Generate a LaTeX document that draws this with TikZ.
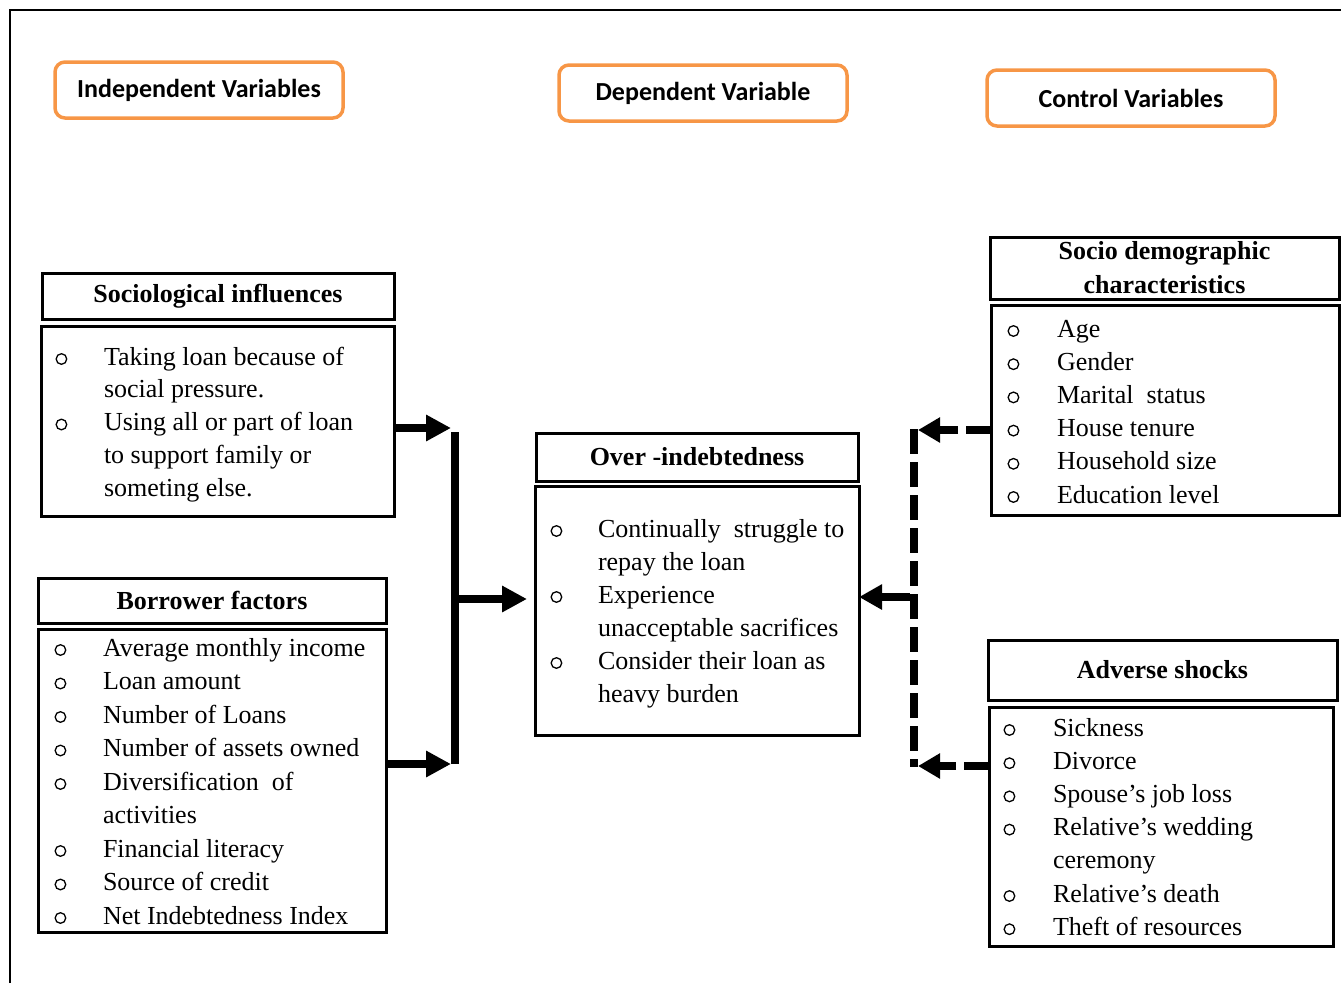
\documentclass[tikz,border=0pt]{standalone}
\usepackage{fontspec}
\setmainfont{Liberation Serif}
\newfontfamily\hfont{Carlito}
\usetikzlibrary{arrows.meta}
\definecolor{orng}{HTML}{F79646}
\tikzset{
  varbox/.style={draw=orng, line width=3.5pt, rounded corners=10pt, inner sep=0pt, outer sep=0pt,
    font=\hfont\bfseries\fontsize{26}{30}\selectfont},
  hdrbox/.style={draw, line width=3pt, inner sep=0pt, outer sep=0pt,
    font=\bfseries\fontsize{26}{34}\selectfont, align=center},
  bodybox/.style={draw, line width=3pt, inner sep=0pt, outer sep=0pt},
  bodytext/.style={anchor=base west, inner sep=0pt, outer sep=0pt},
  solidarrow/.style={line width=8pt, -{Triangle[length=25pt,width=25pt]}},
  dasharrow/.style={line width=8pt, dash pattern=on 25pt off 8pt, -{Triangle[length=22pt,width=24pt]}},
  barline/.style={line width=8pt},
  dashbar/.style={line width=8pt, dash pattern=on 25pt off 8pt},
}
\newcommand{\bul}{\hspace*{3.5pt}\tikz[baseline=0pt,x=1pt,y=1pt]{\path (0,0) -- (0,1); \draw[line width=1.3pt] (5.5,6) circle[radius=5.3];}}
\begin{document}
\begin{tikzpicture}[x=1pt,y=-1pt]
\useasboundingbox (0,0) rectangle (1341,983);
\draw[line width=1.5pt] (10,983) -- (10,10) -- (1341,10);

% category boxes
\node[varbox, minimum width=288pt, minimum height=56pt] (indep) at (199,90) {Independent Variables};
\node[varbox, minimum width=288pt, minimum height=56pt] (dep) at (703,93) {Dependent Variable};
\node[varbox, minimum width=288pt, minimum height=56pt] (ctrl) at (1131,98) {Control Variables};

% sociological
\node[hdrbox, minimum width=352pt, minimum height=46pt] (sochdr) at (218,296) {Sociological influences};
\node[bodybox, minimum width=353pt, minimum height=190pt] (socbody) at (217.5,421) {};
\node[bodytext, font=\fontsize{26}{32.75}\selectfont] (soctext) at (52,365) {%
\begin{tabular}[t]{@{}p{52pt}@{}l@{}}
\bul & Taking loan because of\\
 & social pressure.\\
\bul & Using all or part of loan\\
 & to support family or\\
 & someting else.
\end{tabular}};

% borrower
\node[hdrbox, minimum width=348pt, minimum height=45pt] (borhdr) at (212,600.5) {Borrower factors};
\node[bodybox, minimum width=348pt, minimum height=303pt] (borbody) at (212,780.5) {};
\node[bodytext, font=\fontsize{26}{33.5}\selectfont] (bortext) at (51,656) {%
\begin{tabular}[t]{@{}p{52pt}@{}l@{}}
\bul & Average monthly income\\
\bul & Loan amount\\
\bul & Number of Loans\\
\bul & Number of assets owned\\
\bul & Diversification \ of\\
 & activities\\
\bul & Financial literacy\\
\bul & Source of credit\\
\bul & Net Indebtedness Index
\end{tabular}};

% over-indebtedness
\node[hdrbox, minimum width=322pt, minimum height=48pt] (ovhdr) at (697,457) {Over -indebtedness};
\node[bodybox, minimum width=324pt, minimum height=249pt] (ovbody) at (697,610.5) {};
\node[bodytext, font=\fontsize{26}{33}\selectfont] (ovtext) at (547,537) {%
\begin{tabular}[t]{@{}p{51pt}@{}l@{}}
\bul & Continually \ struggle to\\
 & repay the loan\\
\bul & Experience\\
 & unacceptable sacrifices\\
\bul & Consider their loan as\\
 & heavy burden
\end{tabular}};

% socio demographic
\node[hdrbox, minimum width=349pt, minimum height=62pt] (sdhdr) at (1164.5,268) {Socio demographic\\characteristics};
\node[bodybox, minimum width=348pt, minimum height=210pt] (sdbody) at (1165,410) {};
\node[bodytext, font=\fontsize{26}{33.2}\selectfont] (sdtext) at (1004,337) {%
\begin{tabular}[t]{@{}p{53pt}@{}l@{}}
\bul & Age\\
\bul & Gender\\
\bul & Marital \ status\\
\bul & House tenure\\
\bul & Household size\\
\bul & Education level
\end{tabular}};

% adverse shocks
\node[hdrbox, minimum width=349pt, minimum height=60pt] (advhdr) at (1162.5,670) {Adverse shocks};
\node[bodybox, minimum width=344pt, minimum height=239pt] (advbody) at (1161,826.5) {};
\node[bodytext, font=\fontsize{26}{33.2}\selectfont] (advtext) at (1000,736) {%
\begin{tabular}[t]{@{}p{53pt}@{}l@{}}
\bul & Sickness\\
\bul & Divorce\\
\bul & Spouse's job loss\\
\bul & Relative's wedding\\
 & ceremony\\
\bul & Relative's death\\
\bul & Theft of resources
\end{tabular}};

% left connectors
\coordinate (barT) at (455,432);
\coordinate (barB) at (455,764);
\coordinate (barM) at (455,599);
\coordinate (a1) at (451,428);
\coordinate (a2) at (451,764);
\draw[barline] (barT) -- (barB);
\draw[solidarrow] (socbody.east |- a1) -- (a1);
\draw[solidarrow] (borbody.east |- a2) -- (a2);
\draw[solidarrow, shorten >=8pt] (barM) -- (ovbody.west |- barM);

% right connectors
\coordinate (rT) at (914,429);
\coordinate (rB) at (914,767);
\coordinate (rM) at (910,597);
\coordinate (r1) at (918,430);
\coordinate (r3) at (918,766);
\draw[dashbar] (rT) -- (rB);
\draw[dasharrow] (sdbody.west |- r1) -- (r1);
\draw[dasharrow] (advbody.west |- r3) -- (r3);
\draw[line width=8pt, -{Triangle[length=23pt,width=24pt]}] (rM) -- (ovbody.east |- rM);
\end{tikzpicture}
\end{document}
